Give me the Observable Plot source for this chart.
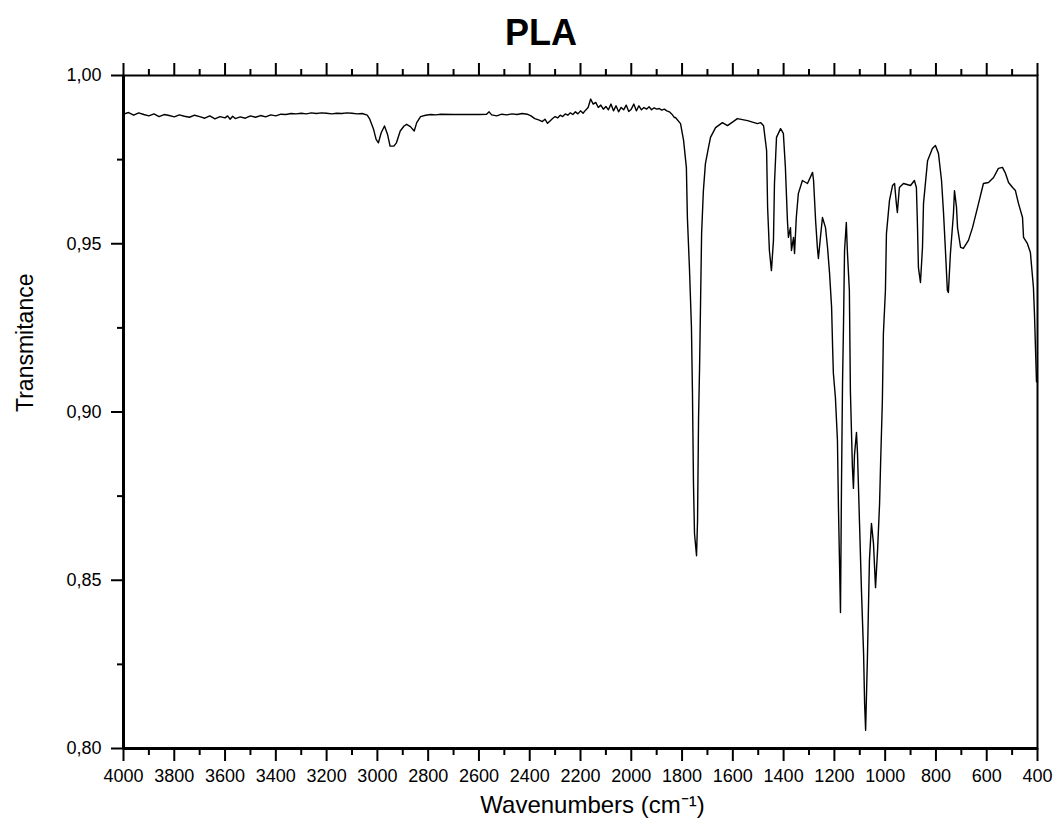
<!DOCTYPE html>
<html>
<head>
<meta charset="utf-8">
<script src="https://cdn.jsdelivr.net/npm/d3@7"></script>
<script src="https://cdn.jsdelivr.net/npm/@observablehq/plot@0.6"></script>
<style>
  html, body { margin: 0; padding: 0; background: #fff; }
  #title { height: 60px; width: 1056px; text-align: center; font-family: "Liberation Sans", Arial, sans-serif; font-weight: bold; font-size: 36px; line-height: 66px; color: #000; padding-left: 26px; box-sizing: border-box; }
</style>
</head>
<body>
<div id="title">PLA</div>
<div id="chart"></div>
<script>
const wavenumbers = [
  4000,3980,3960,3940,3920,3900,3880,3860,3840,3820,3800,3780,3760,3740,3720,3700,3680,3660,3640,3620,3600,3590,3580,3570,3560,3540,3520,3500,3480,3460,3440,3420,3400,3380,3360,3340,3320,3300,3280,3260,3240,3220,3200,3180,3160,3140,3120,3100,3080,3060,3040,
  3030,3015,3005,2996,2985,2972,2960,2950,2935,2925,2910,2895,2885,2870,2855,2845,2830,2810,2790,2770,2750,2700,2650,2600,2570,2560,2550,2530,2510,2490,2470,2450,2430,2410,2395,2380,2365,2350,2340,2330,2320,2310,2300,2290,2280,2270,2260,2250,2240,2230,2220,2210,2200,2190,2180,2170,2160,2150,2140,2130,2120,2110,2100,2090,2080,2070,2060,2050,2040,2030,2020,2010,2000,1990,1980,1970,1960,1950,1940,1930,1920,1910,1900,1890,1880,1870,1860,1850,1840,1830,
  1826,1806,1794,1783,1779,1771,1763,1759,1755,1751,1743,1739,1735,1731,1727,1723,1716,1708,1696,1688,1668,1641,1621,1582,1542,1503,1491,1479,1467,1463,1456,1448,1440,1436,1428,1412,1401,1393,1385,1381,1373,1369,1361,1357,1350,1342,1326,1306,1286,1282,1274,1267,1263,1255,1247,1235,1227,1219,1211,1207,1204,1196,1188,1184,1176,1172,1168,1164,1160,1153,1149,1141,1137,1129,1125,1121,1113,1109,1101,1093,1085,1081,1077,1070,1062,1054,1046,1038,1030,1022,1018,1011,1007,999,995,983,971,963,956,952,944,928,900,885,877,873,869,861,853,849,833,814,802,790,778,770,762,755,751,743,731,727,719,715,703,692,672,656,636,613,593,573,554,538,526,514,498,487,475,459,455,440,428,416,412,404,400
];
const transmittance = [
  0.9885,0.9890,0.9882,0.9889,0.9884,0.9880,0.9886,0.9878,0.9884,0.9881,0.9877,0.9883,0.9879,0.9876,0.9882,0.9878,0.9873,0.9880,0.9871,0.9878,0.9874,0.9880,0.9870,0.9879,0.9872,0.9877,0.9873,0.9880,0.9876,0.9881,0.9877,0.9883,0.9880,0.9885,0.9884,0.9887,0.9886,0.9888,0.9886,0.9889,0.9887,0.9889,0.9888,0.9886,0.9888,0.9887,0.9889,0.9888,0.9886,0.9887,0.9882,
  0.9870,0.9840,0.9810,0.9800,0.9830,0.9850,0.9825,0.9790,0.9790,0.9800,0.9835,0.9850,0.9855,0.9848,0.9835,0.9860,0.9878,0.9882,0.9884,0.9883,0.9885,0.9884,0.9884,0.9884,0.9885,0.9892,0.9883,0.9880,0.9885,0.9883,0.9886,0.9884,0.9887,0.9885,0.9880,0.9872,0.9868,0.9863,0.9870,0.9858,0.9865,0.9872,0.9878,0.9874,0.9882,0.9878,0.9886,0.9882,0.9889,0.9884,0.9892,0.9886,0.9895,0.9888,0.9897,0.9905,0.9930,0.9915,0.9920,0.9905,0.9912,0.9900,0.9908,0.9898,0.9915,0.9895,0.9910,0.9892,0.9905,0.9898,0.9912,0.9893,0.9900,0.9915,0.9895,0.9910,0.9898,0.9905,0.9900,0.9907,0.9898,0.9904,0.9900,0.9902,0.9897,0.9900,0.9895,0.9892,0.9885,0.9875,
  0.9875,0.9857,0.9807,0.9727,0.9578,0.9430,0.9251,0.9055,0.8787,0.8639,0.8573,0.8677,0.8984,0.9132,0.9331,0.9530,0.9658,0.9738,0.9786,0.9816,0.9845,0.9860,0.9851,0.9872,0.9866,0.9857,0.9860,0.9851,0.9777,0.9608,0.9480,0.9420,0.9510,0.9679,0.9816,0.9842,0.9828,0.9727,0.9569,0.9519,0.9548,0.9480,0.9519,0.9471,0.9578,0.9649,0.9688,0.9679,0.9712,0.9688,0.9569,0.9489,0.9456,0.9519,0.9578,0.9548,0.9489,0.9412,0.9311,0.9192,0.9115,0.9043,0.8916,0.8716,0.8404,0.8787,0.9085,0.9263,0.9480,0.9563,0.9480,0.9361,0.9064,0.8835,0.8773,0.8871,0.8939,0.8877,0.8669,0.8461,0.8282,0.8134,0.8054,0.8267,0.8559,0.8669,0.8609,0.8478,0.8588,0.8728,0.8847,0.9034,0.9233,0.9361,0.9530,0.9629,0.9673,0.9679,0.9620,0.9593,0.9667,0.9679,0.9673,0.9688,0.9667,0.9560,0.9429,0.9385,0.9489,0.9620,0.9747,0.9783,0.9792,0.9768,0.9688,0.9590,0.9471,0.9361,0.9355,0.9471,0.9590,0.9658,0.9608,0.9548,0.9489,0.9486,0.9510,0.9548,0.9608,0.9679,0.9682,0.9697,0.9724,0.9727,0.9709,0.9682,0.9667,0.9658,0.9620,0.9578,0.9519,0.9501,0.9474,0.9370,0.9293,0.9090,0.9090
];
const xMajorTicks = [4000,3800,3600,3400,3200,3000,2800,2600,2400,2200,2000,1800,1600,1400,1200,1000,800,600,400];
const xMinorTicks = [3900,3700,3500,3300,3100,2900,2700,2500,2300,2100,1900,1700,1500,1300,1100,900,700,500];
const yMajorTicks = [0.80,0.85,0.90,0.95,1.00];
const yMinorTicks = [0.825,0.875,0.925,0.975];
const yTickLabels = ["0,80","0,85","0,90","0,95","1,00"];

const data = wavenumbers.map((w, i) => ({wn: w, t: transmittance[i]}));
const font = "Liberation Sans, Arial, sans-serif";

const chart = Plot.plot({
  width: 1056,
  height: 778,
  marginTop: 15,
  marginLeft: 123,
  marginRight: 19,
  marginBottom: 90,
  style: {fontFamily: font, fontSize: "18px", color: "#000", background: "#fff"},
  x: {domain: [4000, 400], label: null},
  y: {domain: [0.80, 1.00], label: null},
  marks: [
    Plot.axisX({ticks: xMajorTicks, tickSize: 13, tickPadding: 8, strokeWidth: 2, tickFormat: d => String(d), fontSize: 18, label: null}),
    Plot.axisX({ticks: xMinorTicks, tickSize: 7, strokeWidth: 2, text: null, label: null}),
    Plot.axisX({anchor: "top", ticks: xMajorTicks, tickSize: 13, strokeWidth: 2, text: null, label: null}),
    Plot.axisX({anchor: "top", ticks: xMinorTicks, tickSize: 7, strokeWidth: 2, text: null, label: null}),
    Plot.axisY({ticks: yMajorTicks, tickSize: 12, tickPadding: 10, strokeWidth: 2, tickFormat: (d, i) => yTickLabels[yMajorTicks.indexOf(d)], fontSize: 18, label: null}),
    Plot.axisY({ticks: yMinorTicks, tickSize: 6, strokeWidth: 2, text: null, label: null}),
    Plot.frame({stroke: "#000", strokeWidth: 2}),
    Plot.ruleX([4000], {stroke: "#000", strokeWidth: 3}),
    Plot.ruleY([0.80], {stroke: "#000", strokeWidth: 3}),
    Plot.line(data, {x: "wn", y: "t", stroke: "#000", strokeWidth: 1.4}),
    Plot.text(["Wavenumbers (cm⁻¹)"], {frameAnchor: "bottom", dx: 12, dy: 47, lineAnchor: "top", fontSize: 24, text: d => d}),
    Plot.text(["Transmitance"], {frameAnchor: "left", dx: -98, rotate: -90, fontSize: 23, text: d => d})
  ]
});
document.getElementById("chart").appendChild(chart);
</script>
</body>
</html>
